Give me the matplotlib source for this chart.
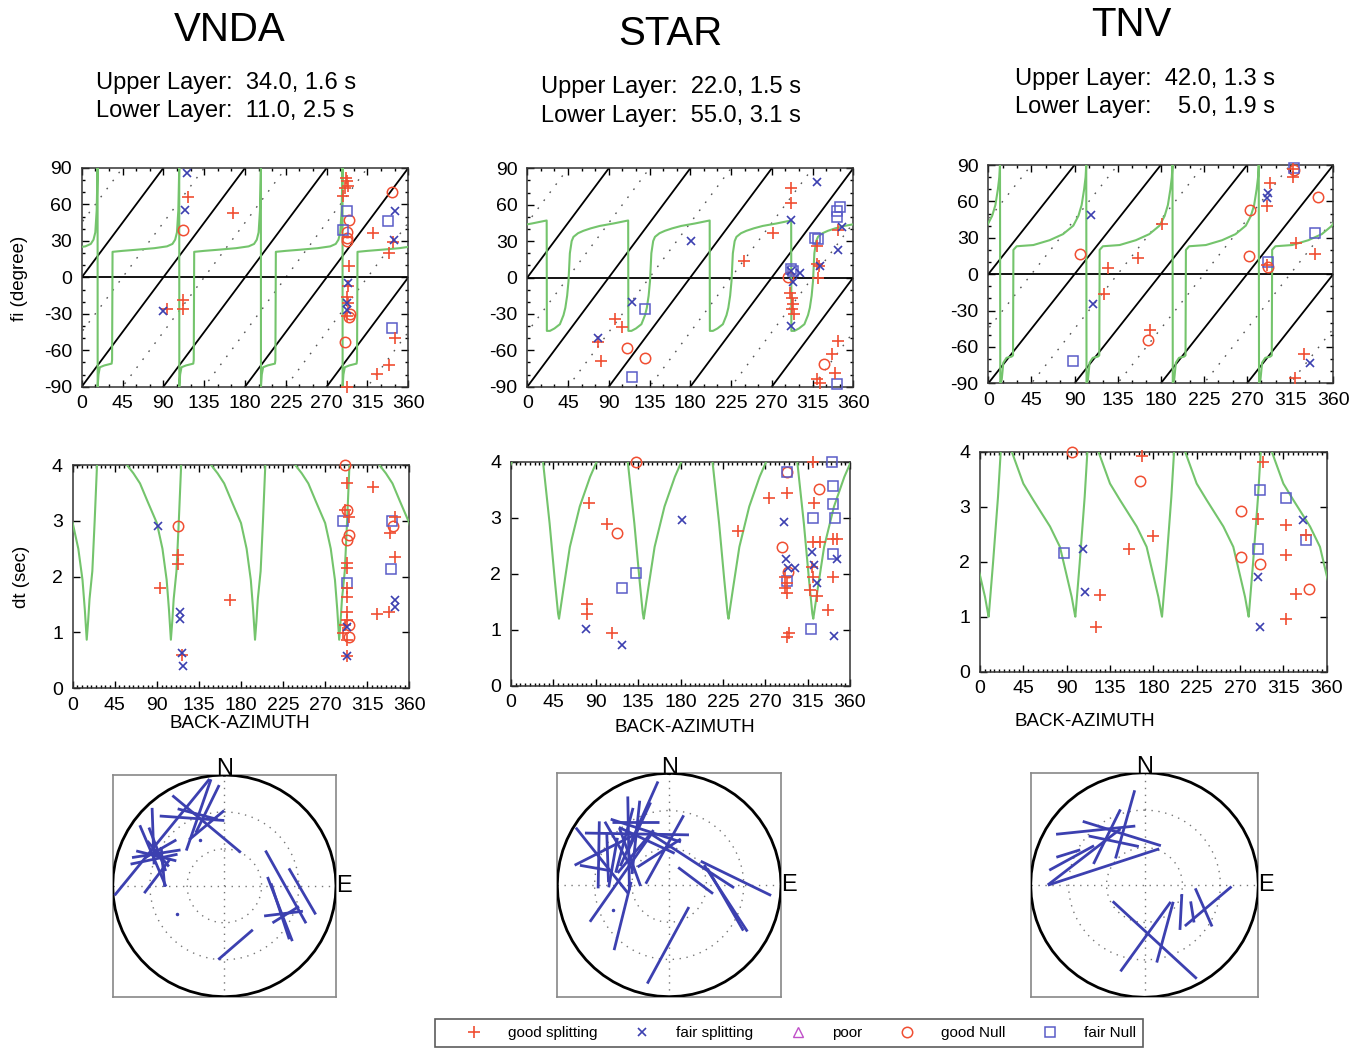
import numpy as np
import matplotlib
matplotlib.use('Agg')
import matplotlib.pyplot as plt
from matplotlib.lines import Line2D

plt.rcParams['font.family'] = ['Liberation Sans', 'DejaVu Sans']
plt.rcParams['axes.unicode_minus'] = False

W, H = 1366, 1048
RED = '#f04e32'
BLUE = '#3c40b0'
SQ = '#5a5cc8'
GREEN = '#74c46c'
MAG = '#c050c8'

stations = ['VNDA', 'STAR', 'TNV']
upper_layer = ['Upper Layer:  34.0, 1.6 s', 'Upper Layer:  22.0, 1.5 s', 'Upper Layer:  42.0, 1.3 s']
lower_layer = ['Lower Layer:  11.0, 2.5 s', 'Lower Layer:  55.0, 3.1 s', 'Lower Layer:    5.0, 1.9 s']
fi_ticks = [-90, -60, -30, 0, 30, 60, 90]
baz_ticks = [0, 45, 90, 135, 180, 225, 270, 315, 360]
dt_ticks = [0, 1, 2, 3, 4]
legend_labels = ['good splitting', 'fair splitting', 'poor', 'good Null', 'fair Null']

# ---------------- model curves (one 90-degree period each) ----------------
vnda_fi_curve_baz = [17.6, 18.5, 20.0, 25.0, 33.0, 33.5, 34.0, 45.0, 60.0, 80.0, 94.0, 100.0, 103.0, 105.0, 106.5, 107.2, 107.5]
vnda_fi_curve = [-90, -80, -74, -72.5, -71, -68, 21, 21.8, 22.7, 24.0, 25.5, 27.5, 31, 37, 55, 78, 90]
vnda_dt_curve_baz = [15, 16.5, 18, 21, 23.5, 26, 40, 58, 65, 72, 80, 90, 96, 100.5, 103]
vnda_dt_curve = [0.87, 1.2, 1.6, 2.1, 3.0, 4.0, 6.0, 4.0, 3.85, 3.67, 3.35, 2.96, 2.5, 1.94, 1.4]

star_fi_curve_baz = [21.6, 25, 30, 36, 40, 42, 44, 45.5, 47, 49, 51, 56, 62, 70, 80, 95, 111.4]
star_fi_curve = [-44, -44, -42, -38.5, -31, -25, -15, -3, 20, 30, 33.5, 36.5, 38.5, 40.5, 42.5, 44.5, 47]
star_dt_curve_baz = [51, 55.5, 62.5, 73, 84, 91, 107, 124, 131, 136.5, 140]
star_dt_curve = [1.2, 1.71, 2.48, 3.2, 3.73, 4.0, 5.5, 4.0, 2.9, 1.89, 1.29]

tnv_fi_curve_baz = [12.5, 14, 15.7, 19, 24.3, 25.8, 26.2, 29.6, 47, 64, 78, 88.7, 94, 97.4, 100, 101.5, 102.2]
tnv_fi_curve = [-90, -87, -73, -69, -68, -67, 20, 23, 24, 28, 33, 40, 48, 57, 70, 80, 90]
tnv_dt_curve_baz = [9, 13.5, 18.7, 21.5, 27, 33, 45, 55.4, 72.7, 83, 90, 95.2, 98.6]
tnv_dt_curve = [1.0, 1.97, 3.18, 4.0, 5.0, 4.0, 3.42, 3.12, 2.64, 2.27, 1.75, 1.36, 1.03]

# ---------------- fi measurements ----------------
vnda_fi_gs_baz = [117.6, 167.2, 291, 292, 290, 294, 288.4, 321.5, 343.5, 339, 295, 111.3, 111.3, 93.7, 294, 292, 294, 292, 345.3, 339, 325, 292.8]
vnda_fi_gs = [65.8, 52.9, 81.8, 79, 73.5, 75, 66.6, 36.4, 28.7, 20, 9, -18.5, -26, -26, -7.5, -15.8, -21, -32, -50, -72, -79.5, -90]
vnda_fi_fs_baz = [115.7, 113.9, 90, 294, 292, 345.3, 344, 292]
vnda_fi_fs = [85.9, 55.7, -28, -4.8, -21, 54.3, 31, -27]
vnda_fi_gn_baz = [111.3, 341.7, 295, 292, 292, 292, 295, 296, 290]
vnda_fi_gn = [39, 70, 46.9, 37, 32.3, 30, -32.3, -30, -52.9]
vnda_fi_fn_baz = [292.8, 288.4, 338, 341.7]
vnda_fi_fn = [54.3, 39.2, 46.6, -41.4]

star_fi_gs_baz = [290.8, 290.8, 271.6, 239.2, 97.2, 104.9, 78.4, 81, 319.5, 319.5, 322.4, 321.3, 290, 291.9, 293.7, 291.9, 294.4, 343.4, 343.4, 336, 339.7, 319.5, 323]
star_fi_gs = [73.6, 61.8, 37, 13.7, -34.3, -40.4, -53, -69.2, 26, 11, 9.6, 0, -12.4, -16.5, -22, -26, -29.7, 39.3, -52, -63, -78.3, -83.8, -86.6]
star_fi_fs_baz = [319.5, 290.8, 180.3, 115.2, 77.7, 290.8, 290.8, 293.7, 301, 323, 347, 343.4]
star_fi_fs = [79, 47.5, 30.2, -20, -49.5, -39.8, 5.5, -4, 4.1, 9.6, 41.8, 22.8]
star_fi_gn_baz = [288.2, 109.7, 129.9, 327.6]
star_fi_gn = [0.5, -57.7, -66, -71.4]
star_fi_fn_baz = [129.9, 115.2, 293.7, 290.8, 317.6, 321.3, 341.5, 345.2, 341.5, 341.5]
star_fi_fn = [-25.6, -82.4, 5.5, 6.9, 32.4, 31.6, 55, 58.3, 49.5, -87.4]

tnv_fi_gs_baz = [318.3, 318.3, 294, 290.4, 321, 340.9, 290.4, 180.9, 155.8, 125.2, 120.7, 168.7, 329.4, 319.7]
tnv_fi_gs = [86.5, 80.5, 75, 55.8, 25.5, 16.5, 7.7, 41.5, 13.2, 5, -16.5, -45.9, -66, -85.7]
tnv_fi_fs_baz = [107, 109.6, 292, 290.4, 335.7]
tnv_fi_fs = [48.4, -24.5, 66.8, 62.6, -73.4]
tnv_fi_gn_baz = [95.7, 273, 272.3, 344.3, 167, 291.5, 318.6]
tnv_fi_gn = [16.8, 53, 14.6, 63.5, -54.7, 6.3, 86]
tnv_fi_fn_baz = [88.3, 341, 292.2, 318.6]
tnv_fi_fn = [-71.4, 33.8, 9.9, 87.4]

# ---------------- dt measurements ----------------
vnda_dt_gs_baz = [93.4, 113, 113, 116.5, 168.2, 293, 291, 296, 293, 293, 293, 293, 293, 293, 291, 289.4, 293, 293, 321.5, 325, 338.6, 339.3, 344.6, 344.6]
vnda_dt_gs = [1.79, 2.39, 2.23, 0.6, 1.58, 3.67, 3.19, 3.07, 2.24, 2.15, 1.79, 1.64, 1.37, 1.22, 1.13, 0.99, 0.87, 0.57, 3.61, 1.33, 1.37, 2.78, 2.35, 3.07]
vnda_dt_fs_baz = [90.9, 114.8, 114.8, 116.5, 118.3, 293, 293, 344.6, 344.6]
vnda_dt_fs = [2.9, 1.37, 1.25, 0.63, 0.4, 0.57, 1.1, 1.58, 1.46]
vnda_dt_gn_baz = [113, 291, 293, 293, 296, 296, 296, 342.8]
vnda_dt_gn = [2.91, 4.0, 3.2, 2.66, 2.75, 1.13, 0.91, 2.91]
vnda_dt_fn_baz = [289.4, 293, 340, 341]
vnda_dt_fn = [2.99, 1.88, 2.13, 3.0]

star_dt_gs_baz = [83.2, 80.4, 80.4, 101.6, 107.6, 241.4, 274.3, 292.7, 291, 292.7, 291, 292.7, 292.7, 295.6, 321, 322, 321, 328, 319.3, 321, 317.5, 324.6, 337, 342.3, 345.8, 342.3]
star_dt_gs = [3.26, 1.47, 1.28, 2.89, 0.95, 2.77, 3.36, 3.45, 1.95, 1.83, 1.74, 1.65, 0.87, 0.95, 4.0, 3.26, 2.57, 2.57, 2.12, 1.95, 1.71, 1.6, 1.35, 2.63, 2.63, 1.95]
star_dt_fs_baz = [79.6, 117.5, 182, 290.3, 292, 294.5, 301.6, 319.3, 322, 325.3, 345.8, 343.4]
star_dt_fs = [1.02, 0.74, 2.96, 2.93, 2.27, 2.1, 2.11, 2.39, 2.15, 1.83, 2.27, 0.9]
star_dt_gn_baz = [132.4, 112.9, 292.7, 287.4, 294.5, 327.4]
star_dt_gn = [4.0, 2.72, 3.81, 2.47, 2.04, 3.52]
star_dt_fn_baz = [118.2, 132.4, 292.7, 292.7, 321, 318.2, 341.2, 342.3, 342.3, 344, 342.3]
star_dt_fn = [1.75, 2.02, 3.81, 1.87, 3.0, 1.02, 4.0, 3.57, 3.24, 3.0, 2.35]

tnv_dt_gs_baz = [167.9, 293.5, 289, 317.8, 317.8, 338.5, 328.1, 317.8, 179.3, 155, 124.6, 120.5]
tnv_dt_gs = [3.92, 3.82, 2.78, 2.67, 2.12, 2.48, 1.42, 0.96, 2.47, 2.23, 1.39, 0.82]
tnv_dt_fs_baz = [106.6, 109, 289, 290.8, 335]
tnv_dt_fs = [2.23, 1.45, 1.73, 0.82, 2.75]
tnv_dt_gn_baz = [95.9, 166.1, 270.7, 270.7, 290.8, 341.6]
tnv_dt_gn = [4.0, 3.47, 2.93, 2.08, 1.96, 1.5]
tnv_dt_fn_baz = [87.2, 290.8, 289, 317.8, 338.5]
tnv_dt_fn = [2.15, 3.3, 2.23, 3.15, 2.39]

# ---------------- station maps: stick centre (baz, distance), fast direction, length ----------------
vnda_stick_baz = [308.2, 344.1, 334.6, 339.7, 340.2, 343.8, 347.7, 295.4, 290.9, 292.9, 305.1, 298.8, 287.2, 293.9, 278.5, 91, 94.1, 112.8, 114.7, 115.3, 115.3, 169.3, 296.0, 300.5]
vnda_stick_dist = [0.71, 0.58, 0.675, 0.69, 0.68, 0.57, 0.71, 0.675, 0.674, 0.695, 0.78, 0.685, 0.576, 0.667, 0.607, 0.55, 0.70, 0.54, 0.55, 0.586, 0.608, 0.54, 0.66, 0.66]
vnda_stick_phi = [39, 130, 94, 105, 19, 50, 26, 81, 78, 157, 178, 159, 175, 104, 37, 151, 150, 159, 162, 83, 58, 49, 140, 60]
vnda_stick_len = [1.35, 0.80, 0.58, 0.37, 0.68, 0.41, 0.48, 0.44, 0.43, 0.60, 0.51, 0.42, 0.36, 0.37, 0.39, 0.75, 0.48, 0.62, 0.53, 0.35, 0.28, 0.41, 0.30, 0.32]
vnda_dot_baz = [331.8, 239.2]
vnda_dot_dist = [0.465, 0.49]

star_stick_baz = [290.1, 298.1, 327.8, 336.8, 332.2, 315.8, 293.2, 333.9, 325.1, 332.1, 352.9, 342.8, 277.8, 236.3, 84.3, 80.5, 103.2, 104.6, 43.7, 181, 307.9, 291.8, 305.5, 333.4, 294.4, 315, 315, 283]
star_stick_dist = [0.64, 0.66, 0.54, 0.53, 0.64, 0.52, 0.685, 0.61, 0.52, 0.58, 0.32, 0.30, 0.44, 0.50, 0.60, 0.24, 0.52, 0.52, 0.30, 0.54, 0.57, 0.54, 0.43, 0.447, 0.604, 0.566, 0.424, 0.667]
star_stick_phi = [141.5, 63, 91, 108, 90, 179, 1, 24, 6, 25, 29, 57, 35, 14, 116, 127, 147, 150, 123, 28.5, 150, 10, 160, 115, 178, 15, 40, 100]
star_stick_len = [0.75, 0.59, 0.93, 0.66, 0.42, 0.84, 0.60, 0.83, 0.66, 0.50, 0.70, 0.46, 0.95, 0.63, 0.70, 0.39, 0.71, 0.64, 0.89, 0.78, 0.50, 0.45, 0.55, 0.55, 0.45, 0.60, 0.50, 0.30]
star_dot_baz = [246]
star_dot_dist = [0.546]

tnv_stick_baz = [318.7, 336.5, 325.3, 292.7, 290.6, 295.3, 294.0, 322.5, 342.5, 169.6, 178.8, 156.8, 126.9, 108.7, 111, 119.7]
tnv_stick_dist = [0.65, 0.50, 0.474, 0.726, 0.684, 0.586, 0.394, 0.542, 0.566, 0.498, 0.46, 0.457, 0.40, 0.591, 0.557, 0.484]
tnv_stick_phi = [84, 107.5, 102, 72.5, 61, 52, 71.7, 26, 15.5, 133, 35.5, 15, 3, 49.4, 156.5, 171]
tnv_stick_len = [0.70, 0.72, 0.45, 0.22, 0.45, 0.81, 1.03, 0.54, 0.63, 1.01, 0.76, 0.56, 0.32, 0.54, 0.37, 0.19]
tnv_dot_baz = []
tnv_dot_dist = []

# ---------------- layout (pixel boxes: left, top, right, bottom) ----------------
fi_boxes = [(81.7, 168, 408.3, 386.7), (527.3, 168.3, 853.3, 386.7), (988.3, 165, 1333.3, 383.3)]
dt_boxes = [(72.7, 465, 409.3, 688.3), (511, 461.7, 850, 686), (980, 451.7, 1326.7, 671.7)]
map_boxes = [(112.7, 775, 336, 996.7), (557.3, 773.3, 781, 996.7), (1030.7, 772.7, 1258.3, 997.3)]
title_pos = [(230, 30), (670, 34), (1131, 25)]
layer_pos = [(96, 83, 111), (541, 87, 116), (1015, 79, 107)]
baz_label_pos = [(240, 724), (685, 727), (1085, 722)]
ylabel_pos = [(20, 278, 'fi (degree)'), (22, 577, 'dt (sec)')]

fig = plt.figure(figsize=(W / 100, H / 100), dpi=100)


def add_ax(box):
    l, t, r, b = box
    return fig.add_axes([l / W, 1 - b / H, (r - l) / W, (b - t) / H])


def tile(baz, val, period=90.0):
    xs, ys = [], []
    for k in range(-2, 6):
        xs.extend(np.asarray(baz, float) + k * period)
        ys.extend(val)
    return np.array(xs), np.array(ys)


def style_axes(ax):
    for s in ax.spines.values():
        s.set_color('#333333')
        s.set_linewidth(1.1)
    ax.tick_params(which='both', direction='in', top=True, right=True, labelsize=14, width=1)
    ax.tick_params(axis='x', pad=6)
    ax.tick_params(axis='y', pad=7)
    ax.tick_params(which='major', length=5)
    ax.tick_params(which='minor', length=2.5)


def draw_markers(ax, gs, fs, gn, fn):
    ax.plot(gn[0], gn[1], ls='none', marker='o', mfc='none', mec=RED, ms=7.5, mew=1.1, clip_on=False, zorder=5)
    ax.plot(fn[0], fn[1], ls='none', marker='s', mfc='none', mec=SQ, ms=7.5, mew=1.1, clip_on=False, zorder=5)
    ax.plot(gs[0], gs[1], ls='none', marker='+', color=RED, ms=9, mew=1.2, clip_on=False, zorder=6)
    ax.plot(fs[0], fs[1], ls='none', marker='x', color=BLUE, ms=5.5, mew=1.2, clip_on=False, zorder=6)


fi_data = [
    (vnda_fi_curve_baz, vnda_fi_curve, (vnda_fi_gs_baz, vnda_fi_gs), (vnda_fi_fs_baz, vnda_fi_fs), (vnda_fi_gn_baz, vnda_fi_gn), (vnda_fi_fn_baz, vnda_fi_fn)),
    (star_fi_curve_baz, star_fi_curve, (star_fi_gs_baz, star_fi_gs), (star_fi_fs_baz, star_fi_fs), (star_fi_gn_baz, star_fi_gn), (star_fi_fn_baz, star_fi_fn)),
    (tnv_fi_curve_baz, tnv_fi_curve, (tnv_fi_gs_baz, tnv_fi_gs), (tnv_fi_fs_baz, tnv_fi_fs), (tnv_fi_gn_baz, tnv_fi_gn), (tnv_fi_fn_baz, tnv_fi_fn)),
]
dt_data = [
    (vnda_dt_curve_baz, vnda_dt_curve, (vnda_dt_gs_baz, vnda_dt_gs), (vnda_dt_fs_baz, vnda_dt_fs), (vnda_dt_gn_baz, vnda_dt_gn), (vnda_dt_fn_baz, vnda_dt_fn)),
    (star_dt_curve_baz, star_dt_curve, (star_dt_gs_baz, star_dt_gs), (star_dt_fs_baz, star_dt_fs), (star_dt_gn_baz, star_dt_gn), (star_dt_fn_baz, star_dt_fn)),
    (tnv_dt_curve_baz, tnv_dt_curve, (tnv_dt_gs_baz, tnv_dt_gs), (tnv_dt_fs_baz, tnv_dt_fs), (tnv_dt_gn_baz, tnv_dt_gn), (tnv_dt_fn_baz, tnv_dt_fn)),
]
map_data = [
    (vnda_stick_baz, vnda_stick_dist, vnda_stick_phi, vnda_stick_len, vnda_dot_baz, vnda_dot_dist),
    (star_stick_baz, star_stick_dist, star_stick_phi, star_stick_len, star_dot_baz, star_dot_dist),
    (tnv_stick_baz, tnv_stick_dist, tnv_stick_phi, tnv_stick_len, tnv_dot_baz, tnv_dot_dist),
]

for lx, ly, lt in ylabel_pos:
    fig.text(lx / W, 1 - ly / H, lt, rotation=90, ha='center', va='center', fontsize=13.5)

for i in range(3):
    # titles
    fig.text(title_pos[i][0] / W, 1 - title_pos[i][1] / H, stations[i], ha='center', va='center', fontsize=29)
    fig.text(layer_pos[i][0] / W, 1 - layer_pos[i][1] / H, upper_layer[i], ha='left', va='center', fontsize=17)
    fig.text(layer_pos[i][0] / W, 1 - layer_pos[i][2] / H, lower_layer[i], ha='left', va='center', fontsize=17)

    # ---- fi panel ----
    ax = add_ax(fi_boxes[i])
    cb, cv, gs, fs, gn, fn = fi_data[i]
    xx = np.array([-180.0, 540.0])
    for k in range(-2, 7):
        ax.plot(xx, xx - 90 * k, color='k', lw=1.3, zorder=2)
        ax.plot(xx, xx - 90 * k + 45, color='#555555', lw=1.0, ls=(0, (1.2, 6)), zorder=1)
    ax.axhline(0, color='k', lw=1.3, zorder=2)
    tx, ty = tile(cb, cv)
    ax.plot(tx, ty, color=GREEN, lw=1.5, zorder=3)
    draw_markers(ax, gs, fs, gn, fn)
    ax.set_xlim(0, 360)
    ax.set_ylim(-90, 90)
    ax.set_xticks(baz_ticks)
    ax.set_yticks(fi_ticks)
    ax.set_xticks(np.arange(0, 361, 15), minor=True)
    ax.set_yticks(np.arange(-90, 91, 10), minor=True)
    style_axes(ax)

    # ---- dt panel ----
    ax = add_ax(dt_boxes[i])
    cb, cv, gs, fs, gn, fn = dt_data[i]
    tx, ty = tile(cb, cv)
    ax.plot(tx, ty, color=GREEN, lw=1.5, zorder=3)
    draw_markers(ax, gs, fs, gn, fn)
    ax.set_xlim(0, 360)
    ax.set_ylim(0, 4)
    ax.set_xticks(baz_ticks)
    ax.set_yticks(dt_ticks)
    ax.set_xticks(np.arange(0, 361, 5), minor=True)
    style_axes(ax)
    fig.text(baz_label_pos[i][0] / W, 1 - baz_label_pos[i][1] / H, 'BACK-AZIMUTH', ha='center', va='center', fontsize=13.5)

    # ---- station map ----
    ax = add_ax(map_boxes[i])
    sb, sd, sp, sl, db, dd = map_data[i]
    t = np.linspace(0, 2 * np.pi, 61)
    ax.plot(np.sin(t), np.cos(t), color='k', lw=2, zorder=3)
    t2 = np.linspace(0, 2 * np.pi, 200)
    for r in (1 / 3, 2 / 3):
        ax.plot(r * np.sin(t2), r * np.cos(t2), color='#777777', lw=1, ls=(0, (1, 4)), zorder=1)
    ax.plot([-1, 1], [0, 0], color='#777777', lw=1, ls=(0, (1, 4)), zorder=1)
    ax.plot([0, 0], [-1, 1], color='#777777', lw=1, ls=(0, (1, 4)), zorder=1)
    sb = np.radians(sb); sp = np.radians(sp)
    sd = np.asarray(sd); sl = np.asarray(sl)
    cu, cv2 = sd * np.sin(sb), sd * np.cos(sb)
    hu, hv = 0.5 * sl * np.sin(sp), 0.5 * sl * np.cos(sp)
    for j in range(len(cu)):
        ax.plot([cu[j] - hu[j], cu[j] + hu[j]], [cv2[j] - hv[j], cv2[j] + hv[j]], color=BLUE, lw=2, zorder=4,
                solid_capstyle='butt')
    if len(db):
        dbr = np.radians(db)
        ax.plot(np.asarray(dd) * np.sin(dbr), np.asarray(dd) * np.cos(dbr), ls='none', marker='.', ms=3, color=BLUE, zorder=4)
    ax.set_xlim(-1, 1)
    ax.set_ylim(-1, 1)
    ax.set_xticks([])
    ax.set_yticks([])
    for s in ax.spines.values():
        s.set_color('#888888')
        s.set_linewidth(1.2)
    ax.text(0, 1.05, 'N', ha='center', va='center', fontsize=17, clip_on=False, zorder=6)
    ax.text(1.07, 0, 'E', ha='center', va='center', fontsize=17, clip_on=False, zorder=6)

# ---------------- legend ----------------
handles = [
    Line2D([], [], ls='none', marker='+', color=RED, ms=9, mew=1.2),
    Line2D([], [], ls='none', marker='x', color=BLUE, ms=5.5, mew=1.2),
    Line2D([], [], ls='none', marker='^', mfc='none', mec=MAG, ms=7, mew=1.0),
    Line2D([], [], ls='none', marker='o', mfc='none', mec=RED, ms=7.5, mew=1.1),
    Line2D([], [], ls='none', marker='s', mfc='none', mec=SQ, ms=7.5, mew=1.1),
]
leg = fig.legend(handles, legend_labels, loc='center', bbox_to_anchor=(789 / W, 1 - 1033 / H), ncol=5,
                 frameon=True, fancybox=False, edgecolor='#333333', fontsize=11, handletextpad=0.15,
                 columnspacing=0.8, borderpad=0.45, borderaxespad=0, handlelength=4.2)
leg.get_frame().set_linewidth(1.2)

fig.savefig('out.png', dpi=100)
